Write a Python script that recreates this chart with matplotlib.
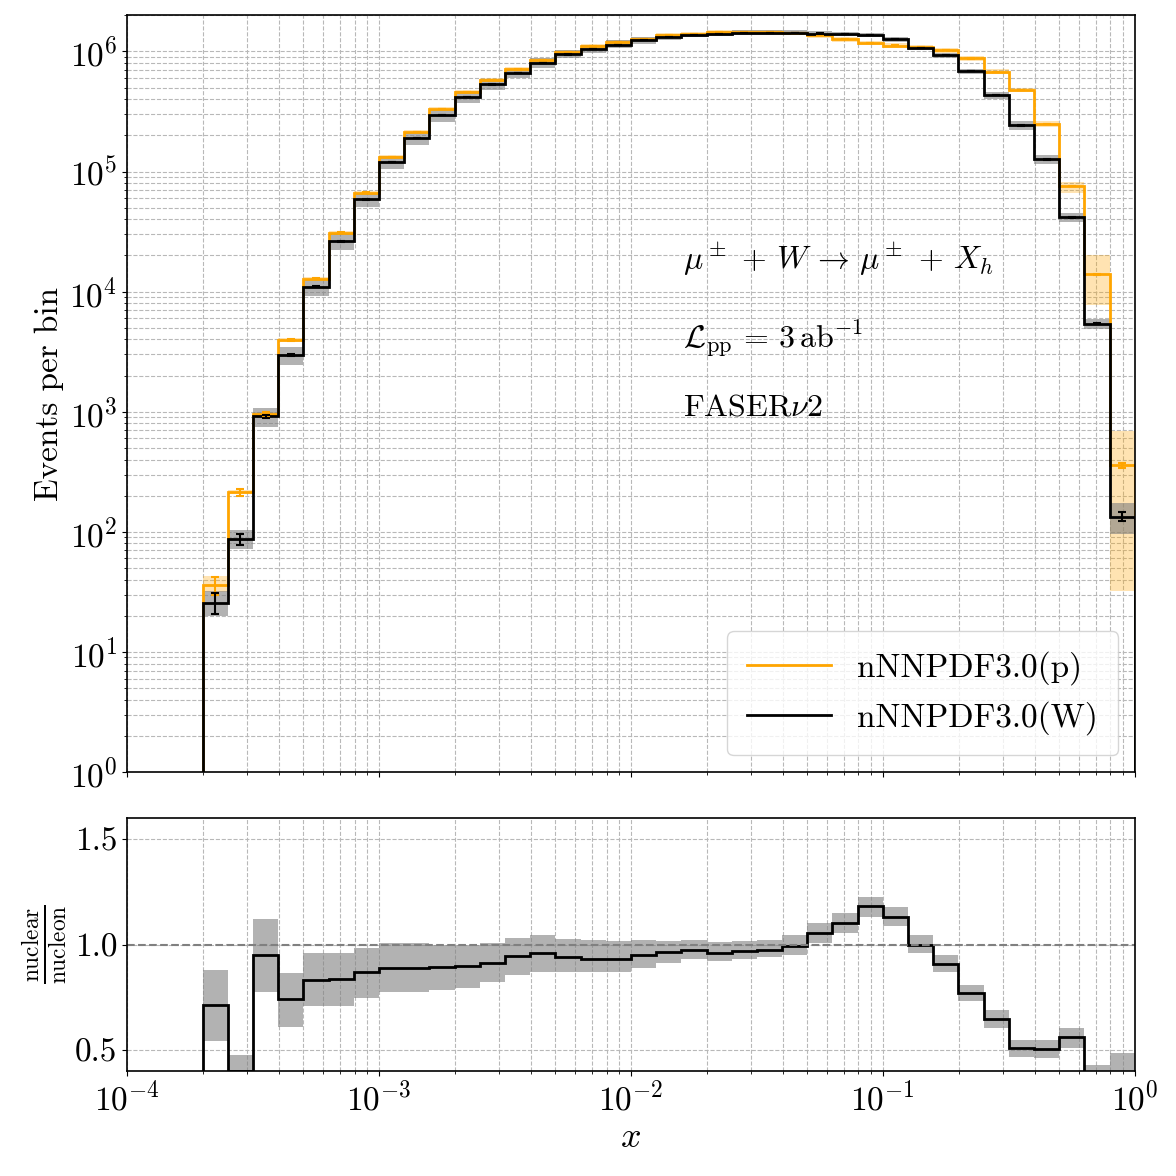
import numpy as np
import matplotlib
matplotlib.use('Agg')
import matplotlib.pyplot as plt
from matplotlib.lines import Line2D

plt.rcParams.update({
    'font.family': 'serif',
    'font.serif': ['cmr10'],
    'mathtext.fontset': 'cm',
    'axes.formatter.use_mathtext': True,
    'axes.linewidth': 1.2,
})

# binning: 10 bins per decade from 2e-4 to 1
edges = np.logspace(-3.7, 0, 38)

# events per bin, nNNPDF3.0(W) (nuclear)
w_events = [25.8, 87, 914, 2950, 10950, 26300, 58600, 120000, 190000, 295000,
            419000, 531000, 656000, 804000, 944000, 1.04e6, 1.14e6, 1.235e6, 1.32e6, 1.37e6,
            1.40e6, 1.43e6, 1.43e6, 1.43e6, 1.41e6, 1.39e6, 1.37e6, 1.26e6, 1.06e6, 931000,
            685000, 432000, 242000, 126000, 41600, 5410, 134]

# events per bin, nNNPDF3.0(p) (free proton)
p_events = [36, 214, 960, 3980, 12800, 31000, 66800, 133000, 215000, 332000,
            458000, 577000, 708000, 847000, 986000, 1.107e6, 1.20e6, 1.275e6, 1.36e6, 1.40e6,
            1.44e6, 1.46e6, 1.46e6, 1.43e6, 1.36e6, 1.26e6, 1.18e6, 1.12e6, 1.09e6, 1.02e6,
            874000, 677000, 476000, 247000, 75500, 13900, 357]

# relative PDF uncertainty of the proton prediction (down / up)
p_rel_dn = [0.12] + [0.04] * 30 + [0.04, 0.04, 0.04, 0.12, 0.44, 0.91]
p_rel_up = [0.19] + [0.04] * 30 + [0.05, 0.04, 0.06, 0.09, 0.44, 0.92]

# ratio nuclear / nucleon with its uncertainty band
ratio = [0.711, 0.40, 0.949, 0.741, 0.833, 0.838, 0.868, 0.889, 0.889, 0.894,
         0.897, 0.913, 0.944, 0.960, 0.941, 0.932, 0.929, 0.948, 0.963, 0.973,
         0.960, 0.967, 0.973, 0.992, 1.056, 1.100, 1.183, 1.132, 0.997, 0.908,
         0.770, 0.646, 0.508, 0.503, 0.560, 0.390, 0.375]
ratio_lo = [0.544, 0.33, 0.773, 0.611, 0.706, 0.71, 0.746, 0.773, 0.776, 0.784,
            0.794, 0.82, 0.857, 0.869, 0.871, 0.868, 0.868, 0.89, 0.914, 0.933,
            0.921, 0.93, 0.94, 0.951, 1.005, 1.056, 1.132, 1.087, 0.96, 0.868,
            0.73, 0.603, 0.468, 0.46, 0.508, 0.35, 0.27]
ratio_hi = [0.881, 0.476, 1.119, 0.865, 0.96, 0.96, 0.984, 1.005, 1.005, 0.998,
            0.998, 1.005, 1.03, 1.043, 1.027, 1.02, 1.016, 1.02, 1.016, 1.02,
            1.013, 1.016, 1.02, 1.043, 1.1, 1.148, 1.227, 1.18, 1.043, 0.948,
            0.81, 0.687, 0.548, 0.545, 0.606, 0.43, 0.484]

w = np.array(w_events)
p = np.array(p_events)
r = np.array(ratio)
centers = np.sqrt(edges[:-1] * edges[1:])

# nuclear band in the top panel has the same relative size as in the ratio
w_lo = w * np.array(ratio_lo) / r
w_hi = w * np.array(ratio_hi) / r
p_lo = p * (1 - np.array(p_rel_dn))
p_hi = p * (1 + np.array(p_rel_up))

fig = plt.figure(figsize=(11.76, 11.76), dpi=100)
ax = fig.add_axes([0.108, 0.3435, 0.857, 0.6435])
ax2 = fig.add_axes([0.108, 0.0893, 0.857, 0.2151])

grid_kw = dict(ls='--', color='0.72', lw=0.8)

# top panel
ax.stairs(p_hi, edges, baseline=p_lo, fill=True, color='orange', alpha=0.3, lw=0)
ax.stairs(w_hi, edges, baseline=w_lo, fill=True, color='grey', alpha=0.6, lw=0)
ax.stairs(p, edges, baseline=1e-3, color='orange', lw=2)
ax.stairs(w, edges, baseline=1e-3, color='black', lw=2)
ax.errorbar(centers, p, yerr=np.sqrt(p), fmt='none', ecolor='orange',
            capsize=3, elinewidth=1.5, capthick=1.5)
ax.errorbar(centers, w, yerr=np.sqrt(w), fmt='none', ecolor='black',
            capsize=3, elinewidth=1.5, capthick=1.5)

ax.set_xscale('log')
ax.set_yscale('log')
ax.set_xlim(1e-4, 1)
ax.set_ylim(1, 2e6)
ax.grid(which='both', **grid_kw)
ax.set_axisbelow(True)
ax.tick_params(labelbottom=False, labelsize=24)
ax.set_ylabel('Events per bin', fontsize=24)

ax.text(0.552, 0.679, r'$\mu^\pm\,+\,W\,\to\,\mu^\pm\,+\,X_h$', transform=ax.transAxes,
        fontsize=23, va='center')
ax.text(0.552, 0.573, r'$\mathcal{L}_{\rm pp}\,=\,3\,{\rm ab}^{-1}$', transform=ax.transAxes,
        fontsize=23, va='center')
ax.text(0.552, 0.481, r'FASER$\nu$2', transform=ax.transAxes,
        fontsize=23, va='center')

handles = [Line2D([], [], color='orange', lw=2), Line2D([], [], color='black', lw=2)]
ax.legend(handles, ['nNNPDF3.0(p)', 'nNNPDF3.0(W)'], loc='lower right',
          fontsize=24, handlelength=2.5, framealpha=0.8, borderpad=0.6)

# ratio panel
ax2.stairs(ratio_hi, edges, baseline=ratio_lo, fill=True, color='grey', alpha=0.6, lw=0)
ax2.stairs(r, edges, baseline=0, color='black', lw=2)
ax2.axhline(1.0, color='grey', ls='--', lw=1.5)
ax2.set_xscale('log')
ax2.set_xlim(1e-4, 1)
ax2.set_ylim(0.4, 1.6)
ax2.set_yticks([0.5, 1.0, 1.5])
ax2.set_yticklabels(['0.5', '1.0', '1.5'])
ax2.grid(which='both', **grid_kw)
ax2.set_axisbelow(True)
ax2.tick_params(labelsize=24)
ax2.set_xlabel(r'$x$', fontsize=26)
ax2.set_ylabel(r'$\frac{\rm nuclear}{\rm nucleon}$', fontsize=24)

fig.savefig('out.png', dpi=100)
